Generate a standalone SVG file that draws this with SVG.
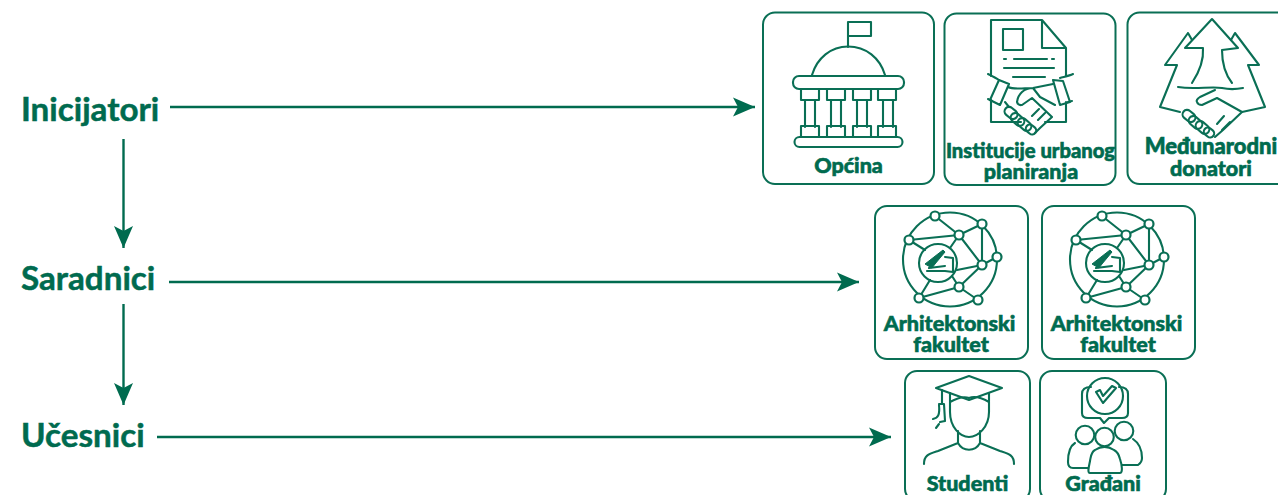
<svg xmlns="http://www.w3.org/2000/svg" width="1278" height="495" viewBox="0 0 1278 495">
<style>
.card{fill:#fff;stroke:#0a6f55;stroke-width:2}
.ic{fill:none;stroke:#0a6f55;stroke-width:2.100;stroke-linecap:round;stroke-linejoin:round}
.nd{fill:#fff;stroke:#0a6f55;stroke-width:2.200}
.wire{fill:none;stroke:#006b4f;stroke-width:2.400}
.h{font-family:Lato,"Liberation Sans",sans-serif;font-weight:700;font-size:33.200px;fill:#006b4f;stroke:#006b4f;stroke-width:.5}
.t{font-family:Lato,"Liberation Sans",sans-serif;font-weight:900;font-size:21.500px;fill:#006b4f;stroke:#006b4f;stroke-width:.6;text-anchor:middle}
</style>
<defs>
<marker id="ah" markerUnits="userSpaceOnUse" markerWidth="22" markerHeight="20" refX="22" refY="10" orient="auto"><path d="M0 0.500L22 10L0 19.500L5 10Z" fill="#006b4f"/></marker>
<g id="net">
<circle class="ic" cx="950" cy="259.500" r="47"/>
<circle class="ic" cx="938" cy="263" r="19"/>
<path class="ic" d="M909 240L959 235M935 216L959 235L982 224M982 224L982 265M959 235L982 265M982 265L997 257M982 265L957 270M982 265L959 287L978 300M919 298L959 287M919 298L930 280M909 240L925 250M959 235L950 248M959 287L952 276"/>
<path d="M925 264L943 250L945 252L935 264L932 268Z" fill="#0a6f55" stroke="#0a6f55" stroke-linejoin="round"/>
<path class="ic" d="M927 271L945 271L953 272L953 258L945 257M929 268L945 266"/>
<g class="nd"><circle cx="935" cy="216" r="4.500"/><circle cx="982" cy="224" r="4.500"/><circle cx="959" cy="235" r="4.500"/><circle cx="909" cy="240" r="4.500"/><circle cx="997" cy="257" r="4.500"/><circle cx="982" cy="265" r="4.500"/><circle cx="959" cy="287" r="4.500"/><circle cx="919" cy="298" r="4.500"/><circle cx="978" cy="300" r="4.500"/></g>
</g>
<g id="caps">
<rect class="ic" x="-7" y="-4.500" width="14" height="9" rx="4.500" transform="translate(0 0) rotate(40)"/>
<rect class="ic" x="-7.500" y="-4.500" width="15" height="9" rx="4.500" transform="translate(6.500 6.500) rotate(40)"/>
<rect class="ic" x="-7.500" y="-4.500" width="15" height="9" rx="4.500" transform="translate(13.500 11.500) rotate(40)"/>
<rect class="ic" x="-5.500" y="-4" width="11" height="8" rx="4" transform="translate(20 16.500) rotate(40)"/>
</g>
</defs>
<rect width="1278" height="495" fill="#fff"/>
<g id="connectors" class="wire">
<path d="M170 107H755" marker-end="url(#ah)"/>
<path d="M169 282H859" marker-end="url(#ah)"/>
<path d="M157 437H891" marker-end="url(#ah)"/>
<path d="M123.500 139V248" marker-end="url(#ah)"/>
<path d="M123.500 304V405" marker-end="url(#ah)"/>
</g>
<g id="level-inicijatori"><text class="h" x="21" y="121">Inicijatori</text></g>
<g id="level-saradnici"><text class="h" x="21" y="289.500">Saradnici</text></g>
<g id="level-ucesnici"><text class="h" x="21" y="447">Učesnici</text></g>
<g id="opcina">
<rect class="card" x="763" y="12.500" width="171" height="171.500" rx="12"/>
<path class="ic" d="M848 47V22H871V36H848"/>
<path class="ic" d="M812 75C817 58 831 46.500 848 46.500C866 46.500 880 58 885 75"/>
<rect class="ic" x="793" y="76" width="111" height="13" rx="6"/>
<path class="ic" d="M801 89V100H819V89M827 89V100H845V89M853 89V100H871V89M878 89V100H896V89"/>
<path class="ic" d="M805 100V127M815 100V127M831 100V127M841 100V127M857 100V127M867 100V127M883 100V127M893 100V127"/>
<path class="ic" d="M801 137V126H819V137M827 137V126H845V137M853 137V126H871V137M878 137V126H896V137"/>
<rect class="ic" x="794.500" y="137" width="108" height="10" rx="5"/>
<text class="t" x="848.500" y="173">Općina</text>
</g>
<g id="institucije">
<rect class="card" x="944.500" y="13.500" width="171" height="171.500" rx="12"/>
<path class="ic" d="M991 76V20H1042L1066 48V76M1042 20V48H1066"/>
<rect class="ic" x="1003" y="29" width="20" height="21"/>
<path class="ic" d="M1004 59H1006M1014 59H1047M1052 59H1054M1004 68H1054M1013 77H1045"/>
<path class="ic" d="M988 74C992 76 996 78 999 80M1060 78C1063 77 1069 76 1073 74M988 99L992 101M1068 102L1072 101"/>
<path class="ic" d="M999 80L1009 84L1000 105L990 100ZM1053 80L1063 81L1070 102L1060 105Z"/>
<path class="ic" d="M991 100V122H1021M1045 122H1066V102"/>
<path class="ic" d="M1008 87C1014 90 1024 88 1033 88L1053 84M1033 88C1024 88 1018 94 1017 102C1018 106 1021 105 1022 105L1032 98L1052 117L1040 128L1035 133M1033 88L1040 97L1055 105M1005 102L1009 107M1045 113L1038 120M1039 109L1032 116"/>
<use href="#caps" x="1011" y="113"/>
<text class="t" x="1030.500" y="157.500" style="font-size:20.200px">Institucije urbanog</text>
<text class="t" x="1031" y="179">planiranja</text>
</g>
<g id="donatori">
<rect class="card" x="1127.500" y="12.500" width="170" height="171.500" rx="12"/>
<path class="ic" d="M1192 83C1198 74 1204 62 1203 48L1185 48L1212 19L1238 48L1222 50C1222 62 1225 74 1232 83"/>
<path class="ic" d="M1192 40L1188 33L1165 65L1177 65L1160 107L1180 112M1231 40L1235 33L1259 65L1248 65L1265 107L1242 112"/>
<path class="ic" d="M1178 87C1195 90 1210 86 1222 88C1231 90 1238 89 1243 88"/>
<path class="ic" d="M1215 90L1200 97C1197 99 1196 101 1197 102C1198 105 1200 105 1202 105L1217 98L1242 112L1223 130L1215 137M1230 122L1222 130M1224 116L1217 124"/>
<use href="#caps" x="1189" y="116"/>
<text class="t" x="1211" y="153.500" style="font-size:22px">Međunarodni</text>
<text class="t" x="1211" y="175.500">donatori</text>
</g>
<g id="arhitektonski-1">
<rect class="card" x="875" y="206" width="153" height="153" rx="12"/>
<use href="#net"/>
<text class="t" x="949.500" y="330.500">Arhitektonski</text>
<text class="t" x="951" y="352">fakultet</text>
</g>
<g id="arhitektonski-2">
<rect class="card" x="1042" y="206" width="153" height="153" rx="12"/>
<use href="#net" x="167"/>
<text class="t" x="1116.500" y="330.500">Arhitektonski</text>
<text class="t" x="1118" y="352">fakultet</text>
</g>
<g id="studenti">
<rect class="card" x="905" y="371" width="125" height="130" rx="12"/>
<path class="ic" d="M969 376L1002 388L969 400L936 388Z"/>
<path class="ic" d="M950 393V412C950 427 960 437 969 437C978 437 989 427 989 412V393M950 402C957 398 964 396 969 398C974 396 982 398 989 402M958 431V443L938 451C929 454 924 455 924 464M980 431V443L1000 451C1009 454 1014 455 1014 464M958 443C963 452 975 452 980 443"/>
<path class="ic" d="M942 390V403M939 404H944L945 421L940 422M939 405C940 415 938 418 933 419M939 424L936 428"/>
<text class="t" x="967.500" y="490.500">Studenti</text>
</g>
<g id="gradani">
<rect class="card" x="1040" y="371" width="126" height="130" rx="12"/>
<path class="ic" d="M1091 387C1085 387 1082 389 1082 394V413C1082 417 1085 418 1088 418H1100L1104 423L1109 418H1122C1126 418 1128 416 1128 413V394C1128 389 1125 387 1119 387"/>
<circle class="ic" cx="1105" cy="396" r="18"/>
<path class="ic" d="M1096 392L1103 403L1116 388L1112 386L1103 396L1100 390Z"/>
<circle class="ic" cx="1085" cy="435" r="9.300"/>
<circle class="ic" cx="1124" cy="431" r="9.300"/>
<circle class="ic" cx="1104.500" cy="437" r="9.300"/>
<path class="ic" d="M1088 468H1073C1069 468 1068 465 1068 462C1068 453 1070 446 1075 443M1122 465H1138C1141 463 1142 461 1142 458C1142 450 1139 443 1133 439"/>
<path class="ic" d="M1095 450C1091 452 1091 456 1090 461C1089 466 1087 473 1090 473H1120C1123 473 1122 465 1120 459C1119 455 1118 452 1114 450C1108 446 1101 446 1095 450Z"/>
<text class="t" x="1103" y="490.500">Građani</text>
</g>
</svg>
